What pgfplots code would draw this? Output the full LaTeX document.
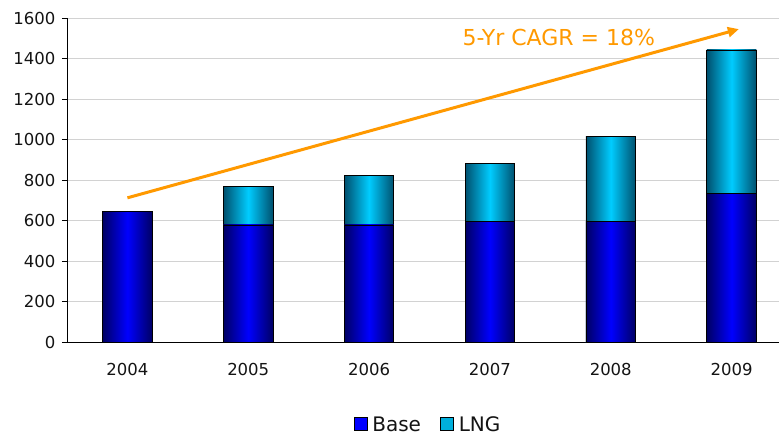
\documentclass[border=0pt]{standalone}
\usepackage{pgfplots}
\pgfplotsset{compat=1.18}
\usepackage{fontspec}
\setmainfont{DejaVu Sans}
\usetikzlibrary{arrows.meta}
\definecolor{basedark}{RGB}{0,0,100}
\definecolor{baselight}{RGB}{0,0,255}
\definecolor{lngdark}{RGB}{0,80,110}
\definecolor{lnglight}{RGB}{0,204,255}
\definecolor{lnglegend}{RGB}{0,175,220}
\definecolor{cagr}{RGB}{255,153,0}
\definecolor{txt}{RGB}{20,20,20}
\pgfplotsset{
  basebar/.style={draw=black, line width=0.9pt, left color=basedark, right color=basedark, middle color=baselight, bar shift=0pt, forget plot},
  lngbar/.style={draw=black, line width=0.9pt, left color=lngdark, right color=lngdark, middle color=lnglight, bar shift=0pt, forget plot},
}
\begin{document}
\begin{tikzpicture}[font=\fontsize{16.5}{19}\selectfont]
\useasboundingbox (-67pt,-95pt) rectangle (712pt,342pt);
\begin{axis}[
  scale only axis,
  width=725pt, height=324pt,
  xmin=-0.5, xmax=5.5,
  ymin=0, ymax=1600,
  ytick={0,200,...,1600},
  xtick={0,...,5},
  xticklabels={2004,2005,2006,2007,2008,2009},
  x tick style={draw=none},
  xticklabel style={yshift=-13pt},
  yticklabel style={xshift=-3pt},
  tick label style={text=txt, font=\fontsize{16.5}{19}\selectfont},
  extra x ticks={0.5,1.5,2.5,3.5,4.5},
  extra x tick labels={},
  extra x tick style={grid=none, tick style={draw=black, thin}, major tick length=6pt},
  tick align=outside,
  major tick length=5pt,
  y tick style={black, thin},
  ymajorgrids,
  grid style={gray!35, line width=1pt},
  axis x line*=bottom,
  axis y line*=left,
  axis line style={black, thin, -},
  ybar, bar shift=0pt,
  bar width=0.41,
  /pgf/number format/assume math mode=true,
  /pgf/number format/1000 sep={},
  legend style={at={(0.5,-0.255)}, anchor=center, draw=none, legend columns=2,
    font=\fontsize{20}{22}\selectfont, text=txt,
    nodes={inner xsep=5pt},
    /tikz/every even column/.append style={column sep=14pt}},
  clip=false,
]
% LNG: top of each stacked bar (Base + LNG totals)
\addplot[lngbar] coordinates {(1,770)};
\addplot[lngbar] coordinates {(2,823)};
\addplot[lngbar] coordinates {(3,883)};
\addplot[lngbar] coordinates {(4,1014)};
\addplot[lngbar] coordinates {(5,1442)};
% Base
\addplot[basebar] coordinates {(0,645)};
\addplot[basebar] coordinates {(1,578)};
\addplot[basebar] coordinates {(2,578)};
\addplot[basebar] coordinates {(3,594)};
\addplot[basebar] coordinates {(4,594)};
\addplot[basebar] coordinates {(5,735)};
\addlegendimage{legend image code/.code={\draw[fill=baselight, draw=black, line width=0.8pt] (0pt,-6pt) rectangle (13pt,7pt);}}
\addlegendentry{Base}
\addlegendimage{legend image code/.code={\draw[fill=lnglegend, draw=black, line width=0.8pt] (0pt,-6pt) rectangle (13pt,7pt);}}
\addlegendentry{LNG}
\draw[cagr, line width=3pt, -{Triangle[length=11pt,width=10pt]}] (axis cs:0,712) -- (axis cs:5.06,1545);
\node[text=cagr, font=\fontsize{22}{25}\selectfont] at (axis cs:3.57,1502) {5-Yr CAGR = 18\%};
\end{axis}
\end{tikzpicture}
\end{document}
